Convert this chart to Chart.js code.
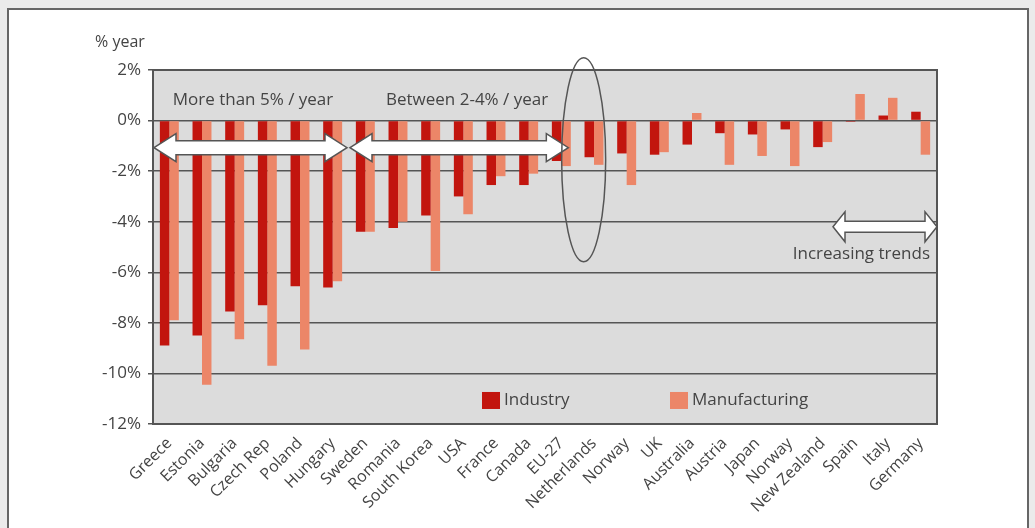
<!DOCTYPE html>
<html>
<head>
<meta charset="utf-8">
<script src="https://cdn.jsdelivr.net/npm/chart.js@4.4.1/dist/chart.umd.min.js"></script>
<style>
  html, body { margin: 0; padding: 0; }
  body { width: 1035px; height: 528px; background: #ebebeb; position: relative; overflow: hidden; }
  #frame { position: absolute; left: 7px; top: 8px; width: 1018px; height: 540px; background: #fff; border: 2px solid #666; }
  #growthChart { position: absolute; left: 0; top: 0; }
</style>
</head>
<body>
<div id="frame"></div>
<canvas id="growthChart" width="1035" height="528"></canvas>
<script>
// categories (countries) and the two series, % per year
const countries = ['Greece', 'Estonia', 'Bulgaria', 'Czech Rep', 'Poland', 'Hungary', 'Sweden', 'Romania',
  'South Korea', 'USA', 'France', 'Canada', 'EU-27', 'Netherlands', 'Norway', 'UK', 'Australia',
  'Austria', 'Japan', 'Norway', 'New Zealand', 'Spain', 'Italy', 'Germany'];
const industry = [-8.9, -8.5, -7.55, -7.3, -6.55, -6.6, -4.4, -4.25, -3.75, -3.0, -2.55, -2.55,
  -1.6, -1.45, -1.3, -1.35, -0.95, -0.5, -0.55, -0.35, -1.05, -0.05, 0.2, 0.35];
const manufacturing = [-7.9, -10.45, -8.65, -9.7, -9.05, -6.35, -4.4, -4.0, -5.95, -3.7, -2.2, -2.1,
  -1.8, -1.75, -2.55, -1.25, 0.3, -1.75, -1.4, -1.8, -0.85, 1.05, 0.9, -1.35];
const yTicks = [2, 0, -2, -4, -6, -8, -10, -12];

const textColor = '#444';
const lineColor = '#555';
const font = '"Open Sans", "Noto Sans", sans-serif';

// white double headed arrow with dark outline
function doubleArrow(ctx, x1, x2, y, shaft, head, headLen) {
    const s = shaft / 2, h = head / 2;
    ctx.beginPath();
    ctx.moveTo(x1, y);
    ctx.lineTo(x1 + headLen, y - h);
    ctx.lineTo(x1 + headLen, y - s);
    ctx.lineTo(x2 - headLen, y - s);
    ctx.lineTo(x2 - headLen, y - h);
    ctx.lineTo(x2, y);
    ctx.lineTo(x2 - headLen, y + h);
    ctx.lineTo(x2 - headLen, y + s);
    ctx.lineTo(x1 + headLen, y + s);
    ctx.lineTo(x1 + headLen, y + h);
    ctx.closePath();
    ctx.fillStyle = '#fff';
    ctx.fill();
    ctx.lineWidth = 1.5;
    ctx.strokeStyle = lineColor;
    ctx.stroke();
}

const plotDecor = {
    id: 'plotDecor',
    beforeDraw(chart) {
        const { ctx, chartArea: a } = chart;
        ctx.save();
        ctx.fillStyle = '#dcdcdc';
        ctx.fillRect(a.left, a.top, a.right - a.left, a.bottom - a.top);
        ctx.restore();
    },
    afterDatasetsDraw(chart) {
        const { ctx, chartArea: a } = chart;
        const x = chart.scales.x, y = chart.scales.y;
        const step = x.getPixelForValue(1) - x.getPixelForValue(0);
        ctx.save();

        // frame of the plot
        ctx.strokeStyle = lineColor;
        ctx.lineWidth = 2;
        ctx.strokeRect(a.left, a.top, a.right - a.left, a.bottom - a.top);

        // arrows
        const split = x.getPixelForValue(5) + step / 2;
        const ay = y.getPixelForValue(-1.07);
        doubleArrow(ctx, a.left + 1, split - 2, ay, 14, 28, 22);
        doubleArrow(ctx, split + 1, x.getPixelForValue(12) + 7, ay, 14, 28, 22);
        doubleArrow(ctx, a.right - 104, a.right, y.getPixelForValue(-4.2), 11, 30, 12);

        // ellipse round EU-27 / Netherlands
        ctx.beginPath();
        ctx.ellipse(x.getPixelForValue(12) + step / 2 + 6, y.getPixelForValue(-1.55), 22, 102, 0, 0, Math.PI * 2);
        ctx.lineWidth = 1.5;
        ctx.strokeStyle = lineColor;
        ctx.stroke();

        // texts
        ctx.fillStyle = textColor;
        ctx.font = '17px ' + font;
        ctx.textBaseline = 'middle';
        ctx.textAlign = 'center';
        ctx.fillText('More than 5% / year', (a.left + split) / 2 + 2, y.getPixelForValue(0.8));
        ctx.textAlign = 'left';
        ctx.fillText('Between 2-4% / year', split + 37, y.getPixelForValue(0.8));
        ctx.textAlign = 'right';
        ctx.fillText('Increasing trends', a.right - 7, y.getPixelForValue(-5.3));

        // legend inside the plot
        const ly = y.getPixelForValue(-11.05);
        const items = [
            { label: 'Industry', color: chart.data.datasets[0].backgroundColor, dx: 329 },
            { label: 'Manufacturing', color: chart.data.datasets[1].backgroundColor, dx: 517 }
        ];
        ctx.textAlign = 'left';
        items.forEach(it => {
            ctx.fillStyle = it.color;
            ctx.fillRect(a.left + it.dx, ly - 8, 18, 17);
            ctx.fillStyle = textColor;
            ctx.fillText(it.label, a.left + it.dx + 22, ly);
        });

        // axis unit
        ctx.textAlign = 'center';
        ctx.font = '16px ' + font;
        ctx.fillText('% year', 120, 42);
        ctx.restore();
    }
};

new Chart(document.getElementById('growthChart'), {
    type: 'bar',
    data: {
        labels: countries,
        datasets: [
            { label: 'Industry', data: industry, backgroundColor: '#c2150e', categoryPercentage: 0.58, barPercentage: 1 },
            { label: 'Manufacturing', data: manufacturing, backgroundColor: '#ec8668', categoryPercentage: 0.58, barPercentage: 1 }
        ]
    },
    options: {
        responsive: false,
        animation: false,
        devicePixelRatio: 1,
        layout: { padding: { left: 0, top: 70, right: 98, bottom: 0 } },
        plugins: {
            legend: { display: false },
            tooltip: { enabled: false }
        },
        scales: {
            y: {
                min: -12,
                max: 2,
                afterBuildTicks: (scale) => { scale.ticks = yTicks.map(v => ({ value: v })); },
                afterFit: (scale) => { scale.width = 153; },
                ticks: {
                    callback: (v) => v + '%',
                    color: textColor,
                    font: { size: 17, family: font },
                    padding: 7
                },
                grid: { color: lineColor, lineWidth: 1.5, tickLength: 5 },
                border: { display: false }
            },
            x: {
                afterFit: (scale) => { scale.height = 104; },
                ticks: {
                    minRotation: 45,
                    maxRotation: 45,
                    autoSkip: false,
                    color: textColor,
                    font: { size: 16, family: font },
                    padding: 10
                },
                grid: { display: false, drawTicks: false },
                border: { display: false }
            }
        }
    },
    plugins: [plotDecor]
});
</script>
</body>
</html>
